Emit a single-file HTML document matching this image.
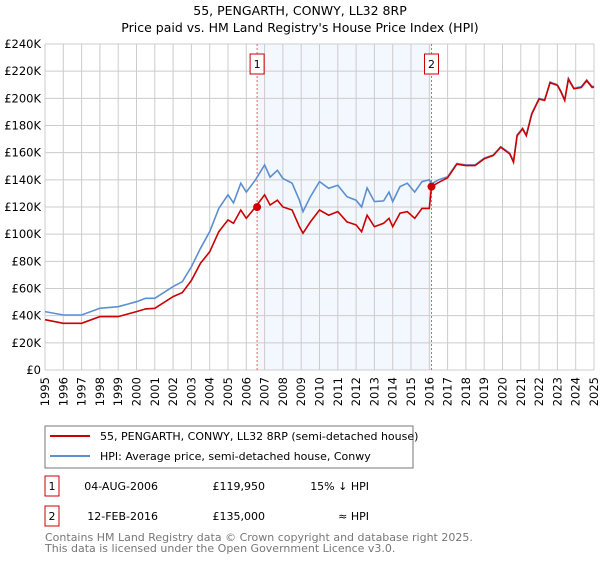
<!DOCTYPE html>
<html><head><meta charset="utf-8"><style>
body{margin:0;background:#fff;font-family:"Liberation Sans","DejaVu Sans",sans-serif;}
svg text{font-family:"DejaVu Sans","Liberation Sans",sans-serif;}
</style></head><body>
<svg id="c" width="600" height="560" viewBox="0 0 600 560">
<text x="300" y="15" text-anchor="middle" font-size="12.5" fill="#000">55, PENGARTH, CONWY, LL32 8RP</text>
<text x="300" y="32" text-anchor="middle" font-size="12.5" fill="#000">Price paid vs. HM Land Registry's House Price Index (HPI)</text>
<g id="plot"></g>
<rect x="45" y="426" width="368" height="42" fill="#fff" stroke="#777"/>
<line x1="50" y1="436" x2="90" y2="436" stroke="#cc0000" stroke-width="2"/>
<text x="100" y="440" font-size="11">55, PENGARTH, CONWY, LL32 8RP (semi-detached house)</text>
<line x1="50" y1="456" x2="90" y2="456" stroke="#5b8fd1" stroke-width="2"/>
<text x="100" y="460" font-size="11">HPI: Average price, semi-detached house, Conwy</text>
<g>
<rect x="45" y="476" width="14" height="20" fill="#fff" stroke="#cc0000"/>
<text x="52" y="490" text-anchor="middle" font-size="11">1</text>
<text x="158" y="490" text-anchor="end" font-size="11">04-AUG-2006</text>
<text x="265" y="490" text-anchor="end" font-size="11">£119,950</text>
<text x="369" y="490" text-anchor="end" font-size="11">15% ↓ HPI</text>
</g>
<g>
<rect x="45" y="506" width="14" height="20" fill="#fff" stroke="#cc0000"/>
<text x="52" y="520" text-anchor="middle" font-size="11">2</text>
<text x="158" y="520" text-anchor="end" font-size="11">12-FEB-2016</text>
<text x="265" y="520" text-anchor="end" font-size="11">£135,000</text>
<text x="369" y="520" text-anchor="end" font-size="11">≈ HPI</text>
</g>
<text x="45" y="541" font-size="11" fill="#777">Contains HM Land Registry data © Crown copyright and database right 2025.</text>
<text x="45" y="552" font-size="11" fill="#777">This data is licensed under the Open Government Licence v3.0.</text>
</svg>
<script>
const years=[1995,1996,1997,1998,1999,2000,2000.5,2001,2002,2002.5,2003,2003.5,2004,2004.5,2005,2005.3,2005.7,2006,2006.5,2007,2007.3,2007.7,2008,2008.5,2008.9,2009.1,2009.5,2010,2010.5,2011,2011.5,2012,2012.3,2012.6,2013,2013.5,2013.8,2014,2014.4,2014.8,2015.2,2015.6,2016.0,2016.12,2016.5,2017,2017.5,2018,2018.5,2019,2019.5,2019.9,2020.4,2020.6,2020.8,2021.1,2021.3,2021.6,2022,2022.3,2022.6,2023,2023.2,2023.4,2023.6,2023.9,2024.3,2024.6,2024.9,2025];
const hpi=[43,40.5,40.5,45.4,46.6,50.3,52.8,52.8,61.4,65,76,89.6,101.8,119,129,123,137.5,131,140,151,142,147,141,137.5,125,116.6,127.6,138.7,133.8,136,127.6,125,120,134,124,124.5,131,124,135,137.5,131,138.7,140,137,140,142.3,152,151,151,156,158.3,164.4,159.6,153.4,173,178,173,189,200,198.8,212,210,205,198.8,214.7,207.4,208.6,213.6,208.6,209];
const price=[37,34.4,34.4,39.3,39.3,43,45,45.4,54,57,66,78.6,87,101.8,110.5,108,117.8,111.7,120,129,121.5,125,120,117.8,105.5,100.7,109,117.8,114,116.6,109,106.8,101.8,114,105.5,108,111.7,105.5,115.4,116.6,111.7,119,119,135,138,141.5,151.5,150.5,150.5,155.5,158,164,159,153,172.5,177.5,172.5,188.5,199.5,198.5,211.5,209.5,204.5,198.5,214,207,208,213,208,208.5];
const yTicks=[0,20,40,60,80,100,120,140,160,180,200,220,240];
const xTicks=[1995,1996,1997,1998,1999,2000,2001,2002,2003,2004,2005,2006,2007,2008,2009,2010,2011,2012,2013,2014,2015,2016,2017,2018,2019,2020,2021,2022,2023,2024,2025];
const sales=[{n:'1',year:2006.59,value:119.95},{n:'2',year:2016.12,value:135}];
const X0=45,X1=594,Y0=370,Y1=44;
const xs=y=>X0+(y-1995)/30*(X1-X0);
const ys=v=>Y0-v/240*(Y0-Y1);
const NS='http://www.w3.org/2000/svg';
const g=document.getElementById('plot');
function mk(t,a,p){const e=document.createElementNS(NS,t);for(const k in a)e.setAttribute(k,a[k]);(p||g).appendChild(e);return e;}
const shade=mk('rect',{x:xs(sales[0].year),y:Y1,width:xs(sales[1].year)-xs(sales[0].year),height:Y0-Y1,fill:'#eef3fd',opacity:0.7});


yTicks.forEach(v=>{
 const l=mk('line',{x1:X0,x2:X1,y1:ys(v),y2:ys(v),stroke:'#cccccc','stroke-width':1});
 
 
 const t=mk('text',{x:X0-4,y:ys(v)+4,'text-anchor':'end','font-size':11.5});
 t.textContent=v===0?'£0':'£'+v+'K';
 
 
});
xTicks.forEach(yr=>{
 const l=mk('line',{x1:xs(yr),x2:xs(yr),y1:Y1,y2:Y0,stroke:'#cccccc','stroke-width':1});
 
 
 const t=mk('text',{x:0,y:0,'text-anchor':'end','font-size':11.5,transform:`translate(${xs(yr)+4},${Y0+7}) rotate(-90)`});
 t.textContent=yr;
 
 
});
sales.forEach(s=>{
 const l=mk('line',{x1:xs(s.year),x2:xs(s.year),y1:Y1,y2:Y0,stroke:'#e06666','stroke-width':1,'stroke-dasharray':'2,2'});
 
 
 const r=mk('rect',{x:xs(s.year)-7,y:54,width:14,height:20,fill:'#fff',stroke:'#cc0000'});
 
 
 const t=mk('text',{x:xs(s.year),y:68,'text-anchor':'middle','font-size':11});
 t.textContent=s.n;
 
 
});
const pts=a=>years.map((y,i)=>xs(y).toFixed(1)+','+ys(a[i]).toFixed(1)).join(' ');
const hl=mk('polyline',{points:pts(hpi),fill:'none',stroke:'#5b8fd1','stroke-width':1.6});


const pl=mk('polyline',{points:pts(price),fill:'none',stroke:'#cc0000','stroke-width':1.6});


sales.forEach(s=>{
 const c=mk('circle',{cx:xs(s.year),cy:ys(s.value),r:4,fill:'#cc0000'});
 
 
});
</script>
</body></html>
